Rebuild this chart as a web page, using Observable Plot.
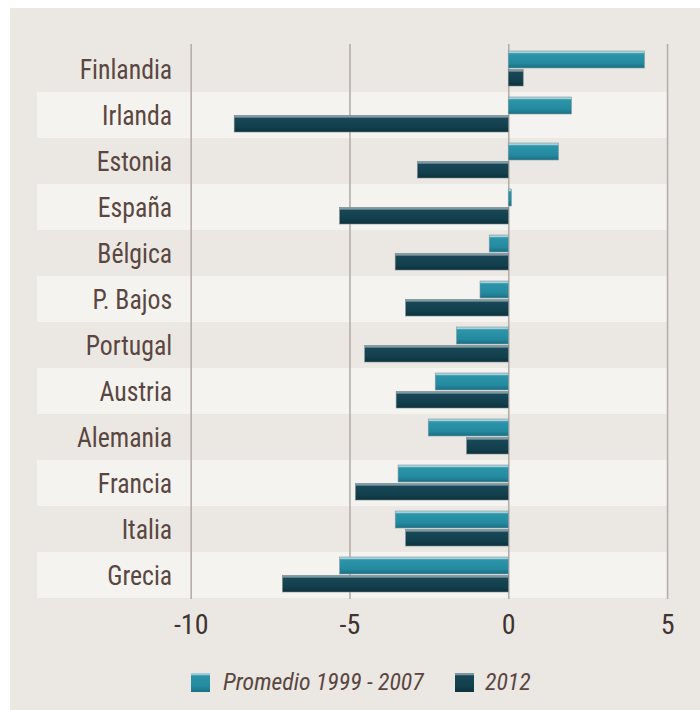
<!DOCTYPE html>
<html>
<head>
<meta charset="utf-8">
<script src="https://cdn.jsdelivr.net/npm/d3@7"></script>
<script src="https://cdn.jsdelivr.net/npm/@observablehq/plot@0.6"></script>
<style>
  html, body { margin: 0; padding: 0; background: #ffffff; }
  #wrap { position: absolute; left: 10px; top: 8px; width: 690px; height: 702px; background: #ebe8e4; overflow: hidden; }
  #legend { position: relative; height: 40px; margin-top: 10px;
            font-family: "Liberation Sans Narrow", "Roboto Condensed", sans-serif; font-style: italic;
            font-size: 24px; color: #5a4640; }
  #legend span { position: absolute; top: 4px; line-height: 30px; white-space: nowrap; transform: scaleX(0.99); transform-origin: left center; }
  .sw { position: absolute; top: 10px; width: 19px; height: 19px; box-sizing: border-box; }
</style>
</head>
<body>
<div id="wrap"><div id="chart"></div>
<div id="legend">
  <div class="sw" style="left:181px; background: linear-gradient(#9ccad5 0, #9ccad5 8%, #2a93a8 15%, #248aa0 70%, #1b7186 100%);"></div>
  <span style="left:213px;">Promedio 1999 - 2007</span>
  <div class="sw" style="left:445px; background: linear-gradient(#7a97a0 0, #7a97a0 8%, #174655 15%, #133f4c 70%, #0d313d 100%);"></div>
  <span style="left:475px;">2012</span>
</div>
</div>
<script>
const countries = ["Finlandia", "Irlanda", "Estonia", "España", "Bélgica", "P. Bajos", "Portugal", "Austria", "Alemania", "Francia", "Italia", "Grecia"];
const promedio = [4.29, 1.99, 1.58, 0.1, -0.6, -0.89, -1.63, -2.3, -2.52, -3.47, -3.56, -5.31];
const y2012 = [0.47, -8.63, -2.86, -5.31, -3.56, -3.23, -4.52, -3.53, -1.31, -4.81, -3.23, -7.11];
const xTicks = [-10, -5, 0, 5];
const seriesNames = ["Promedio 1999 - 2007", "2012"];

const rows = countries.map((c, i) => ({country: c, promedio: promedio[i], y2012: y2012[i], stripe: i % 2 === 1}));

const font = '"Liberation Sans Narrow", "Roboto Condensed", sans-serif';
const fmt = d => d < 0 ? "-" + Math.abs(d) : String(d);

const svg = Plot.plot({
  width: 690,
  height: 645,
  marginTop: 36,
  marginBottom: 54,
  marginLeft: 27,
  marginRight: 32,
  style: {background: "transparent", fontFamily: font, fontSize: "28px", color: "#3f3430"},
  x: {domain: [-14.84, 5.03], ticks: xTicks, tickFormat: fmt, label: null},
  y: {domain: countries, padding: 0, axis: null},
  marks: [
    Plot.cell(rows.filter(d => d.stripe), {y: "country", fill: "#f4f3f0"}),
    Plot.ruleX(xTicks, {stroke: "#b5aeaa", strokeWidth: 1.6}),
    Plot.barX(rows, {y: "country", x1: 0, x2: "promedio", insetTop: 5, insetBottom: 24, fill: "url(#gTeal)", stroke: "#7f9aa1", strokeWidth: 0.6}),
    Plot.barX(rows, {y: "country", x1: 0, x2: "y2012", insetTop: 23.5, insetBottom: 6, fill: "url(#gDark)", stroke: "#6f8389", strokeWidth: 0.6}),
    Plot.text(countries, {y: d => d, x: () => -10, dx: -19, dy: 1, textAnchor: "end", fill: "#5a4640", fontSize: 28, className: "clabel"}),
    Plot.axisX({ticks: xTicks, tickSize: 0, tickPadding: 15, fontSize: 28, fill: "#3f3430", tickFormat: fmt, label: null})
  ]
});

// narrow the country labels horizontally to match the condensed face
d3.select(svg).selectAll("g.clabel text").each(function() {
  const t = d3.select(this);
  const tr = t.attr("transform");
  if (tr) {
    t.attr("transform", tr + " scale(0.92,1)");
  } else {
    const x = +t.attr("x") || 0, y = +t.attr("y") || 0;
    t.attr("x", null).attr("y", null).attr("transform", `translate(${x},${y}) scale(0.92,1)`);
  }
});

const defs = d3.select(svg).insert("defs", ":first-child");
const g1 = defs.append("linearGradient").attr("id", "gTeal").attr("x1", 0).attr("x2", 0).attr("y1", 0).attr("y2", 1);
[[0, "#a6d0d9"], [0.1, "#a6d0d9"], [0.16, "#2c95aa"], [0.7, "#248aa0"], [1, "#1a6f83"]].forEach(([o, c]) => g1.append("stop").attr("offset", o).attr("stop-color", c));
const g2 = defs.append("linearGradient").attr("id", "gDark").attr("x1", 0).attr("x2", 0).attr("y1", 0).attr("y2", 1);
[[0, "#7e9aa3"], [0.1, "#7e9aa3"], [0.16, "#184757"], [0.7, "#133f4c"], [1, "#0d303c"]].forEach(([o, c]) => g2.append("stop").attr("offset", o).attr("stop-color", c));

document.getElementById("chart").appendChild(svg);
</script>
</body>
</html>
